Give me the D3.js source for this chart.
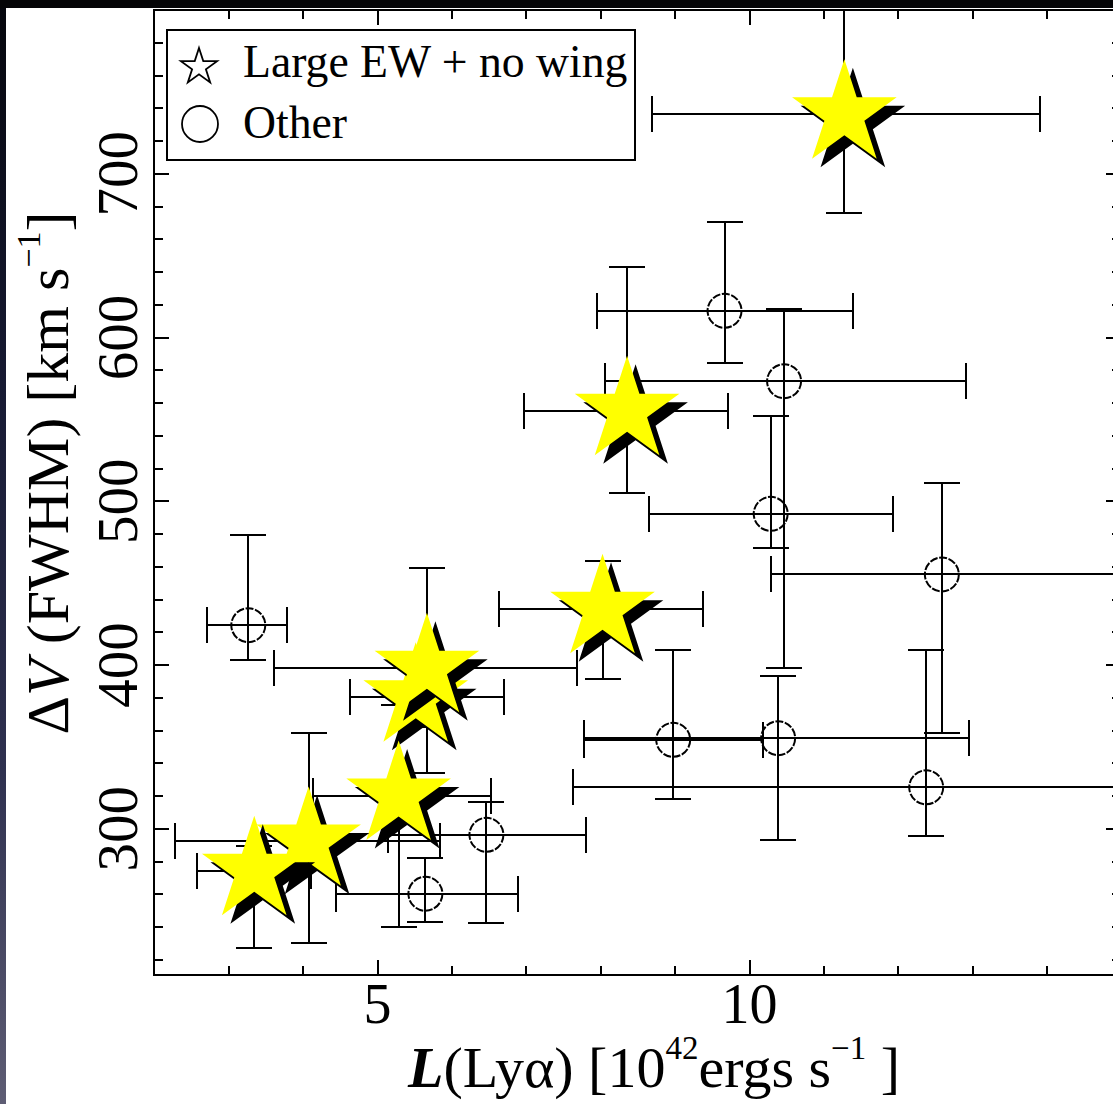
<!DOCTYPE html>
<html>
<head>
<meta charset="utf-8">
<script src="https://cdn.jsdelivr.net/npm/d3@7"></script>
<style>
  html, body { margin: 0; padding: 0; background: #fff; overflow: hidden; }
  svg { display: block; }
</style>
</head>
<body>
<svg id="chart" width="1113" height="1104"></svg>
<script>
// Lyα emitters: line width ΔV (FWHM) against Lyα luminosity, with error bars.

// "Large EW + no wing" objects (drawn as yellow stars, in drawing order)
const starLum    = [11.28, 8.36, 8.03, 5.52, 5.67, 5.29, 4.08, 3.35];
const starLumLo  = [ 8.69, 6.97, 6.64, 4.64, 3.61, 4.14, 2.28, 2.58];
const starLumHi  = [13.91, 9.71, 9.38, 6.71, 7.69, 6.53, 5.85, 4.11];
const starFwhm   = [736, 555, 434, 380, 398, 320, 292, 274];
const starFwhmLo = [676, 505, 391, 362, 334, 240, 230, 227];
const starFwhmHi = [800, 643, 463, 400, 459, 375, 358, 289];

// "Other" objects (open circles)
const otherLum    = [ 9.67, 10.47, 10.29, 12.59, 3.27, 8.98, 10.39, 12.38, 6.47, 5.65];
const otherLumLo  = [ 7.95,  8.06,  8.66, 10.30, 2.72, 7.78,  7.78,  7.63, 5.15, 4.45];
const otherLumHi  = [11.39, 12.92, 11.94, 15.30, 3.79, 10.18, 12.96, 15.30, 7.81, 6.90];
const otherFwhm   = [616, 573, 492, 455, 424, 354, 355, 325, 296, 260];
const otherFwhmLo = [584, 398, 471, 358, 403, 318, 293, 295, 242, 243];
const otherFwhmHi = [670, 617, 552, 511, 479, 409, 393, 409, 316, 282];

// Axis ticks
const xMajorTicks = [5, 10, 15];
const xMinorTicks = d3.range(3, 15);
const yMajorTicks = [300, 400, 500, 600, 700, 800];
const yMinorTicks = d3.range(220, 800, 20);
const yLabelTicks = [300, 400, 500, 600, 700];
const xLabelTicks = [5, 10];

// Legend entries
const legendLabels = ["Large EW + no wing", "Other"];

const svg = d3.select("#chart");
const W = 1113, H = 1104;
const serif = "'Liberation Serif', 'Times New Roman', Times, serif";
const ink = "#000";

const x = d3.scaleLinear().domain([2, 15]).range([153.8, 1121.2]);
const y = d3.scaleLinear().domain([210.4, 800]).range([975, 9.5]);

// page background with the dark frame along the top and left
const defs = svg.append("defs");
const grad = defs.append("linearGradient").attr("id", "edge")
  .attr("x1", 0).attr("y1", 0).attr("x2", 0).attr("y2", 1);
grad.append("stop").attr("offset", "0%").attr("stop-color", "#05060c");
grad.append("stop").attr("offset", "35%").attr("stop-color", "#171a33");
grad.append("stop").attr("offset", "70%").attr("stop-color", "#2f3150");
grad.append("stop").attr("offset", "100%").attr("stop-color", "#5e5d74");

svg.append("rect").attr("width", W).attr("height", H).attr("fill", "#fff");
svg.append("rect").attr("x", 0).attr("y", 0).attr("width", 6).attr("height", H)
  .attr("fill", "url(#edge)");
svg.append("rect").attr("x", 0).attr("y", 0).attr("width", W).attr("height", 8)
  .attr("fill", "#050507");

// axes: ticks point inward on all four sides
const axisG = svg.append("g").attr("shape-rendering", "crispEdges");
function drawAxis(axis, tx, ty) {
  const g = axisG.append("g").attr("transform", `translate(${tx},${ty})`).call(axis);
  g.select(".domain").remove();
  g.selectAll(".tick line").attr("stroke", ink).attr("stroke-width", 2);
  return g;
}
const MAJ = 15, MIN = 9;
drawAxis(d3.axisBottom(x).tickValues(xMinorTicks).tickSize(-MIN).tickFormat(""), 0, y.range()[0]);
drawAxis(d3.axisTop(x).tickValues(xMinorTicks).tickSize(-MIN).tickFormat(""), 0, y.range()[1]);
drawAxis(d3.axisBottom(x).tickValues(xMajorTicks).tickSize(-MAJ).tickFormat(""), 0, y.range()[0]);
drawAxis(d3.axisTop(x).tickValues(xMajorTicks).tickSize(-MAJ).tickFormat(""), 0, y.range()[1]);
drawAxis(d3.axisLeft(y).tickValues(yMinorTicks).tickSize(-MIN).tickFormat(""), x.range()[0], 0);
drawAxis(d3.axisRight(y).tickValues(yMinorTicks).tickSize(-MIN).tickFormat(""), x.range()[1], 0);
drawAxis(d3.axisLeft(y).tickValues(yMajorTicks).tickSize(-MAJ).tickFormat(""), x.range()[0], 0);
drawAxis(d3.axisRight(y).tickValues(yMajorTicks).tickSize(-MAJ).tickFormat(""), x.range()[1], 0);

// tick labels
const xl = drawAxis(d3.axisBottom(x).tickValues(xLabelTicks).tickSize(0).tickPadding(8)
  .tickFormat(d3.format("d")), 0, y.range()[0]);
xl.selectAll("text").attr("font-family", serif).attr("font-size", 56).attr("fill", ink);

const yl = drawAxis(d3.axisLeft(y).tickValues(yLabelTicks).tickSize(0)
  .tickFormat(d3.format("d")), x.range()[0], 0);
yl.selectAll("text")
  .attr("font-family", serif).attr("font-size", 57).attr("fill", ink)
  .attr("text-anchor", "middle").attr("dy", null)
  .attr("x", 0).attr("y", -17)
  .attr("transform", "rotate(-90)");

// plot frame
svg.append("rect")
  .attr("x", x.range()[0]).attr("y", y.range()[1])
  .attr("width", x.range()[1] - x.range()[0])
  .attr("height", y.range()[0] - y.range()[1])
  .attr("fill", "none").attr("stroke", ink).attr("stroke-width", 2)
  .attr("shape-rendering", "crispEdges");

// error bars
const CAP = 18;
function errorBars(g, lum, lumLo, lumHi, fw, fwLo, fwHi) {
  lum.forEach((v, i) => {
    const cx = x(v), cy = y(fw[i]);
    const x0 = x(lumLo[i]), x1 = x(lumHi[i]);
    const y0 = y(fwLo[i]), y1 = y(fwHi[i]);
    const segs = [
      [x0, cy, x1, cy], [x0, cy - CAP, x0, cy + CAP], [x1, cy - CAP, x1, cy + CAP],
      [cx, y0, cx, y1], [cx - CAP, y0, cx + CAP, y0], [cx - CAP, y1, cx + CAP, y1]
    ];
    g.selectAll(null).data(segs).enter().append("line")
      .attr("x1", d => d[0]).attr("y1", d => d[1])
      .attr("x2", d => d[2]).attr("y2", d => d[3]);
  });
}
const ebG = svg.append("g").attr("stroke", ink).attr("stroke-width", 2)
  .attr("shape-rendering", "crispEdges");
errorBars(ebG, otherLum, otherLumLo, otherLumHi, otherFwhm, otherFwhmLo, otherFwhmHi);
errorBars(ebG, starLum, starLumLo, starLumHi, starFwhm, starFwhmLo, starFwhmHi);

// open circles
svg.append("g").selectAll("circle").data(otherLum).enter().append("circle")
  .attr("cx", d => x(d)).attr("cy", (d, i) => y(otherFwhm[i]))
  .attr("r", 17).attr("fill", "none").attr("stroke", ink)
  .attr("stroke-width", 2).attr("stroke-dasharray", "8 1.6");

// yellow stars with a drop shadow
const R = 55;
const starPath = d3.symbol().type(d3.symbolStar).size(R * R / 0.8908130915292852)();
const starG = svg.append("g");
starLum.forEach((v, i) => {
  const cx = x(v), cy = y(starFwhm[i]);
  starG.append("path").attr("d", starPath)
    .attr("transform", `translate(${cx + 8.5},${cy + 8.5})`).attr("fill", "#000");
  starG.append("path").attr("d", starPath)
    .attr("transform", `translate(${cx},${cy})`).attr("fill", "#ffff00");
});

// legend
const lg = svg.append("g");
lg.append("rect").attr("x", 167).attr("y", 30).attr("width", 468).attr("height", 130)
  .attr("fill", "#fff").attr("stroke", ink).attr("stroke-width", 2)
  .attr("shape-rendering", "crispEdges");
const smallStar = d3.symbol().type(d3.symbolStar).size(19 * 19 / 0.8908130915292852)();
lg.append("path").attr("d", smallStar).attr("transform", "translate(199,67)")
  .attr("fill", "none").attr("stroke", ink).attr("stroke-width", 1.8);
lg.append("circle").attr("cx", 200).attr("cy", 124).attr("r", 18)
  .attr("fill", "none").attr("stroke", ink).attr("stroke-width", 1.8);
lg.selectAll("text.lab").data(legendLabels).enter().append("text")
  .attr("class", "lab")
  .attr("x", 243).attr("y", (d, i) => i === 0 ? 77 : 138)
  .attr("font-family", serif).attr("font-size", 45.7).attr("fill", ink)
  .text(d => d);

// x-axis title
const xt = svg.append("text")
  .attr("x", 654).attr("y", 1087).attr("text-anchor", "middle")
  .attr("font-family", serif).attr("font-size", 58).attr("fill", ink);
xt.append("tspan").attr("font-weight", "bold").attr("font-style", "italic").text("L");
xt.append("tspan").text("(Lyα) [10");
xt.append("tspan").attr("font-size", 33).attr("dy", -28).text("42");
xt.append("tspan").attr("dy", 28).text("ergs s");
xt.append("tspan").attr("font-size", 33).attr("dy", -28).text("−1");
xt.append("tspan").attr("dy", 28).text(" ]");

// y-axis title
const yt = svg.append("text")
  .attr("transform", "translate(68,473) rotate(-90)")
  .attr("text-anchor", "middle")
  .attr("font-family", serif).attr("font-size", 60).attr("fill", ink);
yt.append("tspan").text("Δ");
yt.append("tspan").attr("font-style", "italic").text("V");
yt.append("tspan").text(" (FWHM) [km s");
yt.append("tspan").attr("font-size", 34).attr("dy", -28).text("−1");
yt.append("tspan").attr("dy", 28).text("]");
</script>
</body>
</html>
